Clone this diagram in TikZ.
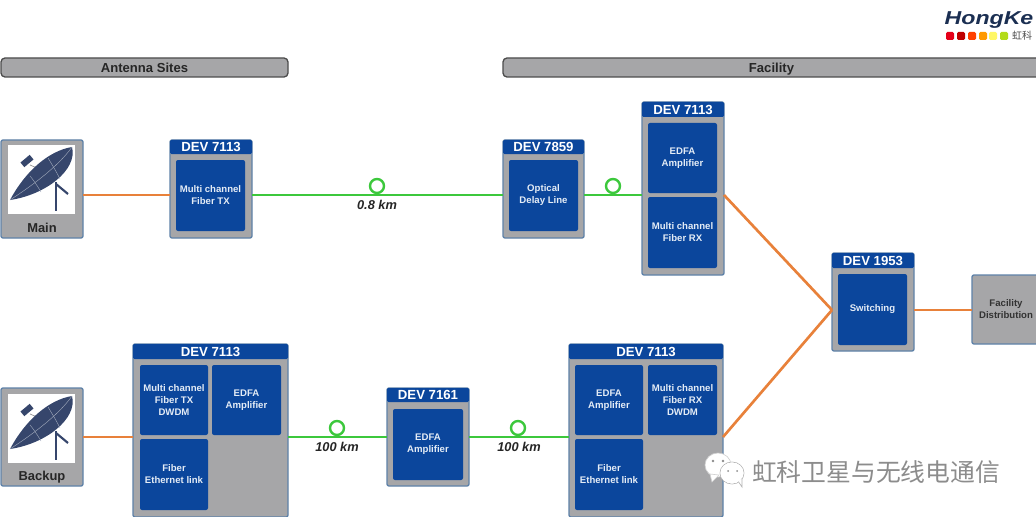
\documentclass[tikz,border=0pt]{standalone}
\usepackage{graphicx}
\usepackage{fontspec}
\setmainfont{Liberation Sans}
\newfontfamily\cjk{Noto Sans CJK SC}
\definecolor{boxgray}{HTML}{A6A6A8}
\definecolor{boxedge}{HTML}{5F82A8}
\definecolor{devblue}{HTML}{0B469C}
\definecolor{inktext}{HTML}{E4ECF6}
\definecolor{orangeln}{HTML}{E8813A}
\definecolor{greenln}{HTML}{3CC83C}
\definecolor{dishblue}{HTML}{36466C}
\definecolor{logonavy}{HTML}{1B2F52}
\tikzset{
  x=0.75pt,y=-0.75pt,
  pxbase/.style={inner sep=0pt,outer sep=0pt,align=center},
  outerbox/.style={pxbase,fill=boxgray,draw=boxedge,line width=1pt,rounded corners=1.5pt},
  headbox/.style={pxbase,fill=devblue,rounded corners=1pt,text=white,font=\bfseries\fontsize{9.9pt}{11pt}\selectfont},
  innerbox/.style={pxbase,fill=devblue,rounded corners=1.5pt,text=inktext,font=\bfseries\fontsize{7.2pt}{9pt}\selectfont},
  sectionbar/.style={pxbase,fill=boxgray,draw=black!70,line width=1pt,rounded corners=3pt,font=\bfseries\fontsize{9.8pt}{11pt}\selectfont,text=black!85,text height=7.2pt,text depth=0pt},
  sitebox/.style={outerbox},
  whitepane/.style={pxbase,fill=white},
  sitelabel/.style={pxbase,font=\bfseries\fontsize{9.7pt}{11pt}\selectfont,text=black!85},
  distbox/.style={outerbox,font=\bfseries\fontsize{7.2pt}{9pt}\selectfont,text=black!80},
  orangewire/.style={draw=orangeln,line width=2pt},
  greenwire/.style={draw=greenln,line width=1.8pt},
  loopring/.style={circle,draw=greenln,line width=1.8pt,fill=white,minimum size=10.5pt,inner sep=0pt,outer sep=0pt},
  kmlabel/.style={pxbase,font=\bfseries\itshape\fontsize{9.6pt}{11pt}\selectfont,text=black!85},
}
% \pxbox[style]{name}{x1}{y1}{x2}{y2}{text}
\newcommand{\pxbox}[7][]{%
  \node[#1,minimum width={(#5-#3)*0.75pt},minimum height={(#6-#4)*0.75pt}] (#2) at ({(#3+#5)/2},{(#4+#6)/2}) {#7};}
% \dishart{x of white pane}{y of white pane}
\newcommand{\dishart}[2]{%
  \begin{scope}[shift={(#1-8,#2-145)}]
    \draw[dishblue,line width=2pt] (56,182) -- (56,211);
    \draw[dishblue,line width=1.6pt] (56,184) -- (68,194);
    \draw[black!45,line width=0.5pt] (30,165) -- (46,172);
    \fill[dishblue,rotate around={40:(27,161)}] (21,158) rectangle (33,164);
    \fill[dishblue] (10,200) .. controls (25,172) and (48,151) .. (72,147) .. controls (78,170) and (45,195) .. (10,200) -- cycle;
    \draw[white!55!dishblue,line width=0.3pt] (10,200) .. controls (30,187) and (58,167) .. (72,147);
    \draw[white!55!dishblue,line width=0.3pt] (30,176) .. controls (35,182) and (38,187) .. (41,192);
    \draw[white!55!dishblue,line width=0.3pt] (48,158) .. controls (53,166) and (57,173) .. (60,179);
  \end{scope}}
\begin{document}
\begin{tikzpicture}
\useasboundingbox (0,0) rectangle (1036,517);
\clip (0,0) rectangle (1036,517);
\fill[white] (0,0) rectangle (1036,517);
% logo
\node[pxbase,font=\bfseries\itshape\fontsize{14pt}{14pt}\selectfont,text=logonavy] (logoname) at (989,20) {\scalebox{1.24}[1]{HongKe}};
\pxbox[pxbase,fill=red!60!purple,rounded corners=1pt]{sqa}{946}{32}{954}{40}{}
\pxbox[pxbase,fill=red!75!black,rounded corners=1pt]{sqb}{957}{32}{965}{40}{}
\pxbox[pxbase,fill=orange!50!red,rounded corners=1pt]{sqc}{968}{32}{976}{40}{}
\pxbox[pxbase,fill=orange!80!yellow,rounded corners=1pt]{sqd}{979}{32}{987}{40}{}
\pxbox[pxbase,fill=yellow!60!white,rounded corners=1pt]{sqe}{989}{32}{997}{40}{}
\pxbox[pxbase,fill=yellow!70!green,rounded corners=1pt]{sqf}{1000}{32}{1008}{40}{}
\node[pxbase,font=\cjk\fontsize{7.5pt}{8pt}\selectfont,text=black!70] (logocn) at (1022,36) {虹科};
% section bars
\pxbox[sectionbar]{barant}{1}{58}{288}{77}{Antenna Sites}
\pxbox[sectionbar,text width=400pt]{barfac}{503}{58}{1040}{77}{Facility}
% row references
\coordinate (rowa) at (0,195);
\coordinate (rowb) at (0,437);
\coordinate (rowc) at (0,310);
% main site
\pxbox[sitebox]{main}{1}{140}{83}{238}{}
\pxbox[whitepane]{mainpane}{8}{145}{75}{214}{}
\dishart{8}{145}
\node[sitelabel] (mainlab) at (42,228) {Main};
% backup site
\pxbox[sitebox]{backup}{1}{388}{83}{486}{}
\pxbox[whitepane]{backuppane}{8}{394}{75}{463}{}
\dishart{8}{394}
\node[sitelabel] (backuplab) at (42,477) {Backup};
% TX
\pxbox[outerbox]{tx}{170}{140}{252}{238}{}
\pxbox[headbox]{txh}{170}{140}{252}{154}{DEV 7113}
\pxbox[innerbox]{txi}{176}{160}{245}{231}{Multi channel\\Fiber TX}
% delay
\pxbox[outerbox]{dly}{503}{140}{584}{238}{}
\pxbox[headbox]{dlyh}{503}{140}{584}{154}{DEV 7859}
\pxbox[innerbox]{dlyi}{509}{160}{578}{231}{Optical\\Delay Line}
% RX
\pxbox[outerbox]{rx}{642}{102}{724}{275}{}
\pxbox[headbox]{rxh}{642}{102}{724}{117}{DEV 7113}
\pxbox[innerbox]{rxa}{648}{123}{717}{193}{EDFA\\Amplifier}
\pxbox[innerbox]{rxb}{648}{197}{717}{268}{Multi channel\\Fiber RX}
% switch
\pxbox[outerbox]{sw}{832}{253}{914}{351}{}
\pxbox[headbox]{swh}{832}{253}{914}{268}{DEV 1953}
\pxbox[innerbox]{swi}{838}{274}{907}{345}{Switching}
% facility distribution
\pxbox[distbox,text width=45pt]{dist}{972}{275}{1040}{344}{Facility\\Distribution}
% backup TX
\pxbox[outerbox]{btx}{133}{344}{288}{517}{}
\pxbox[headbox]{btxh}{133}{344}{288}{359}{DEV 7113}
\pxbox[innerbox]{btxa}{140}{365}{208}{435}{Multi channel\\Fiber TX\\DWDM}
\pxbox[innerbox]{btxb}{212}{365}{281}{435}{EDFA\\Amplifier}
\pxbox[innerbox]{btxc}{140}{439}{208}{510}{Fiber\\Ethernet link}
% inline amp
\pxbox[outerbox]{amp}{387}{388}{469}{486}{}
\pxbox[headbox]{amph}{387}{388}{469}{402}{DEV 7161}
\pxbox[innerbox]{ampi}{393}{409}{463}{480}{EDFA\\Amplifier}
% backup RX
\pxbox[outerbox]{brx}{569}{344}{723}{517}{}
\pxbox[headbox]{brxh}{569}{344}{723}{359}{DEV 7113}
\pxbox[innerbox]{brxa}{575}{365}{643}{435}{EDFA\\Amplifier}
\pxbox[innerbox]{brxb}{648}{365}{717}{435}{Multi channel\\Fiber RX\\DWDM}
\pxbox[innerbox]{brxc}{575}{439}{643}{510}{Fiber\\Ethernet link}
% wires
\draw[orangewire] (main.east |- rowa) -- (tx.west |- rowa);
\draw[greenwire] (tx.east |- rowa) -- (dly.west |- rowa);
\draw[greenwire] (dly.east |- rowa) -- (rx.west |- rowa);
\draw[orangewire] (backup.east |- rowb) -- (btx.west |- rowb);
\draw[greenwire] (btx.east |- rowb) -- (amp.west |- rowb);
\draw[greenwire] (amp.east |- rowb) -- (brx.west |- rowb);
\draw[orangewire] (rx.east |- rowa) -- (sw.west |- rowc);
\draw[orangewire] (brx.east |- rowb) -- (sw.west |- rowc);
\draw[orangewire] (sw.east |- rowc) -- (dist.west |- rowc);
% fibre loops and their lengths
\node[loopring] (loopa) at (377,186) {};
\node[loopring] (loopb) at (613,186) {};
\node[loopring] (loopc) at (337,428) {};
\node[loopring] (loopd) at (518,428) {};
\draw[greenwire] (loopa.south) -- (loopa.south |- rowa);
\draw[greenwire] (loopb.south) -- (loopb.south |- rowa);
\draw[greenwire] (loopc.south) -- (loopc.south |- rowb);
\draw[greenwire] (loopd.south) -- (loopd.south |- rowb);
\node[kmlabel] (kma) at (377,205) {0.8 km};
\node[kmlabel] (kmc) at (337,447) {100 km};
\node[kmlabel] (kmd) at (519,447) {100 km};
% watermark
\begin{scope}
  \fill[white,draw=black!18,line width=0.5pt] (718,465) ellipse (13 and 12);
  \fill[white,draw=black!18,line width=0.5pt] (710,474) -- (712,482) -- (719,475) -- cycle;
  \fill[white,draw=black!30,line width=0.5pt] (732,473) ellipse (12 and 11);
  \fill[white,draw=black!30,line width=0.5pt] (738,481) -- (742,487) -- (742,478) -- cycle;
  \fill[white] (732,473) ellipse (11.5 and 10.5);
  \fill[black!45] (713,461) circle (1.3) (723,461) circle (1.3) (728,471) circle (1) (737,471) circle (1);
\end{scope}
\node[pxbase,anchor=west,font=\cjk\fontsize{18.6pt}{20pt}\selectfont,text=black!45] (wmtext) at (752,472) {虹科卫星与无线电通信};
\end{tikzpicture}
\end{document}
